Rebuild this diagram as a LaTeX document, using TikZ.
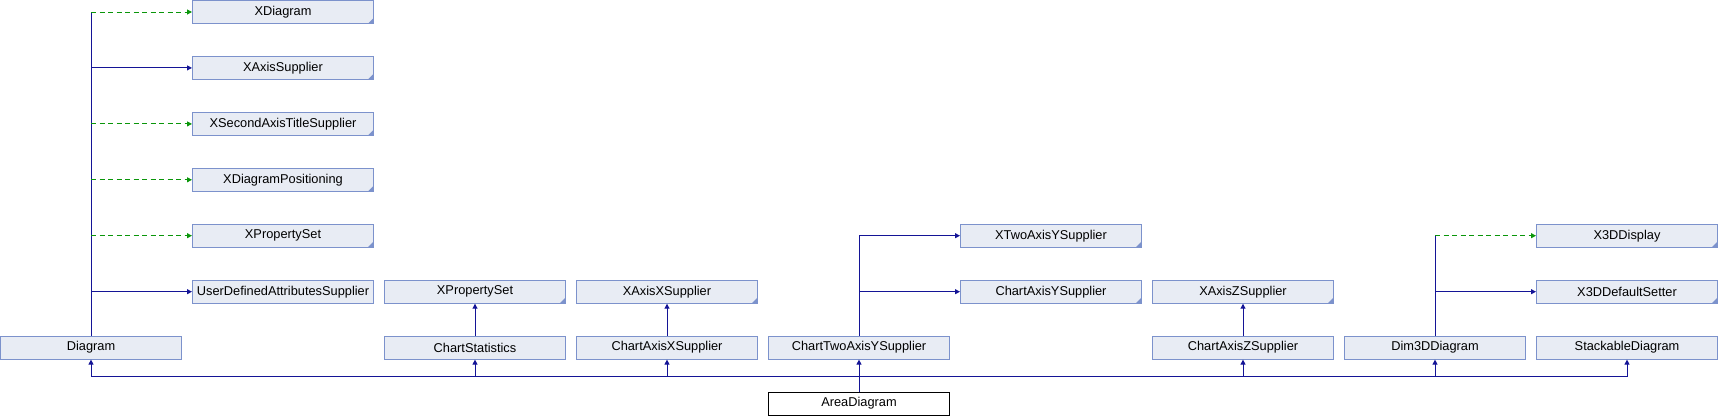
\documentclass[tikz,border=0pt]{standalone}
\usepackage{fontspec}
\setmainfont{Liberation Sans}
\usetikzlibrary{arrows.meta}
\definecolor{boxfill}{RGB}{232,236,244}
\definecolor{boxdraw}{RGB}{124,146,204}
\definecolor{inhblue}{RGB}{20,20,150}
\definecolor{impgreen}{RGB}{10,150,10}
\tikzset{
  cls/.style={draw=boxdraw, fill=boxfill, line width=1pt, minimum width=181pt, minimum height=23pt,
    inner sep=0pt, font=\fontsize{12.8}{14}\selectfont},
  iface/.style={cls, path picture={\fill[boxdraw] (path picture bounding box.south east) -- ++(-5.5pt,0) -- ++(5.5pt,5.5pt) -- cycle;}},
  mainbox/.style={draw=black, fill=white, line width=1pt, minimum width=181pt, minimum height=23pt,
    inner sep=0pt, font=\fontsize{12.8}{14}\selectfont},
  trunk/.style={draw=inhblue, line width=1pt},
  inh/.style={trunk, -{Triangle[length=5pt,width=5pt]}},
  impl/.style={draw=impgreen, line width=1pt, dash pattern=on 5pt off 3.5pt, -{Triangle[length=5pt,width=5pt]}}
}
\begin{document}
\begin{tikzpicture}[x=1pt,y=1pt]
\useasboundingbox (0,0) rectangle (1718,-416);
% column 0 / 1
\node[iface] (xdiagram) at (283,-12) {XDiagram};
\node[iface] (xaxissup) at (283,-67.9) {XAxisSupplier};
\node[iface] (xsecond) at (283,-123.9) {XSecondAxisTitleSupplier};
\node[iface] (xdiapos) at (283,-179.8) {XDiagramPositioning};
\node[iface] (xpropa) at (283,-235.7) {XPropertySet};
\node[cls] (userdef) at (283,-291.7) {UserDefinedAttributesSupplier};
\node[cls] (diagram) at (91,-347.6) {Diagram};
% column 2, 3
\node[iface] (xpropb) at (475,-291.7) {XPropertySet};
\node[cls] (chartstat) at (475,-347.6) {ChartStatistics};
\node[iface] (xaxisx) at (667,-291.7) {XAxisXSupplier};
\node[cls] (chartaxisx) at (667,-347.6) {ChartAxisXSupplier};
% column 4, 5
\node[iface] (xtwoaxis) at (1051,-235.7) {XTwoAxisYSupplier};
\node[iface] (chartaxisy) at (1051,-291.7) {ChartAxisYSupplier};
\node[cls] (charttwo) at (859,-347.6) {ChartTwoAxisYSupplier};
\node[mainbox] (area) at (859,-403.5) {AreaDiagram};
% column 6
\node[iface] (xaxisz) at (1243,-291.7) {XAxisZSupplier};
\node[cls] (chartaxisz) at (1243,-347.6) {ChartAxisZSupplier};
% column 7, 8
\node[iface] (x3ddisp) at (1627,-235.7) {X3DDisplay};
\node[iface] (x3ddef) at (1627,-291.7) {X3DDefaultSetter};
\node[cls] (dim3d) at (1435,-347.6) {Dim3DDiagram};
\node[cls] (stack) at (1627,-347.6) {StackableDiagram};

% Diagram trunk and branches
\coordinate (dtop) at (diagram.north |- xdiagram.west);
\draw[trunk] (diagram.north) -- (dtop);
\draw[impl] (dtop) -- (xdiagram.west);
\draw[inh] (diagram.north |- xaxissup.west) -- (xaxissup.west);
\draw[impl] (diagram.north |- xsecond.west) -- (xsecond.west);
\draw[impl] (diagram.north |- xdiapos.west) -- (xdiapos.west);
\draw[impl] (diagram.north |- xpropa.west) -- (xpropa.west);
\draw[inh] (diagram.north |- userdef.west) -- (userdef.west);

% vertical single parents
\draw[inh] (chartstat) -- (xpropb);
\draw[inh] (chartaxisx) -- (xaxisx);
\draw[inh] (chartaxisz) -- (xaxisz);

% ChartTwoAxisYSupplier
\coordinate (ctop) at (charttwo.north |- xtwoaxis.west);
\draw[trunk] (charttwo.north) -- (ctop);
\draw[inh] (ctop) -- (xtwoaxis.west);
\draw[inh] (charttwo.north |- chartaxisy.west) -- (chartaxisy.west);

% Dim3DDiagram
\coordinate (dimtop) at (dim3d.north |- x3ddisp.west);
\draw[trunk] (dim3d.north) -- (dimtop);
\draw[impl] (dimtop) -- (x3ddisp.west);
\draw[inh] (dim3d.north |- x3ddef.west) -- (x3ddef.west);

% bus from AreaDiagram
\coordinate (bus) at (859,-376);
\draw[trunk] (area.north) -- (bus);
\draw[inh] (bus) -| (diagram.south);
\draw[inh] (bus) -| (chartstat.south);
\draw[inh] (bus) -| (chartaxisx.south);
\draw[inh] (bus) -- (charttwo.south);
\draw[inh] (bus) -| (chartaxisz.south);
\draw[inh] (bus) -| (dim3d.south);
\draw[inh] (bus) -| (stack.south);
\end{tikzpicture}
\end{document}
